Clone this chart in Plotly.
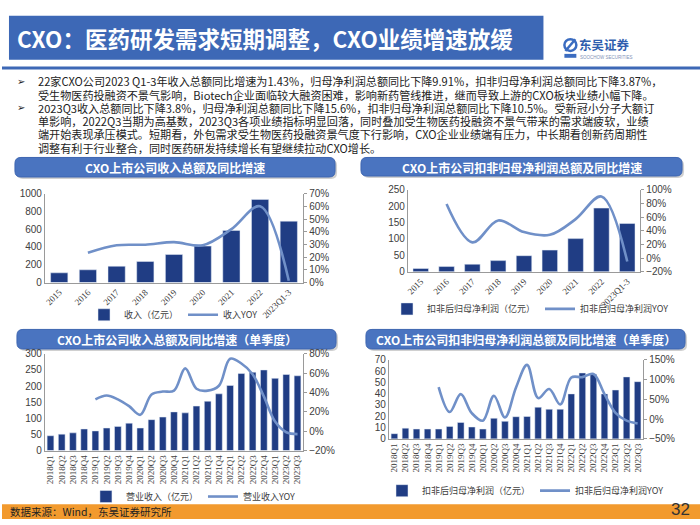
import plotly.graph_objects as go

W, H = 700, 525

# ---------------- data ----------------
years = ["2015", "2016", "2017", "2018", "2019", "2020", "2021", "2022", "2023Q1-3"]
rev_annual = [109, 143, 183, 237, 315, 410, 586, 935, 690]
rev_annual_yoy = [None, 23.4, 29.3, 29.8, 31.8, 29.3, 42.0, 60.0, 1.43]

np_annual = [10, 16, 23, 34, 49, 66, 101, 194, 147]
np_annual_yoy = [None, 79, 23, 55, 38, 34, 57, 90, -5]

quarters = ["2018Q1", "2018Q2", "2018Q3", "2018Q4", "2019Q1", "2019Q2", "2019Q3", "2019Q4",
            "2020Q1", "2020Q2", "2020Q3", "2020Q4", "2021Q1", "2021Q2", "2021Q3", "2021Q4",
            "2022Q1", "2022Q2", "2022Q3", "2022Q4", "2023Q1", "2023Q2", "2023Q3"]
rev_q = [46, 51, 55, 67, 61, 70, 75, 85, 70, 96, 104, 120, 117, 138, 153, 176,
         202, 239, 243, 250, 224, 236, 232]
rev_q_yoy = [None, None, None, None, 33, 37, 33, 26, 17, 38, 41, 42, 65, 44, 42, 47,
             75, 70, 59, 36, 10, -1, -3]

np_q = [4.6, 9.5, 8.7, 8.7, 8.7, 11, 14.5, 10.5, 8.7, 18.2, 15.5, 19.6, 19.8, 28, 26.2, 26.2,
        39.8, 58.3, 57.2, 39.8, 43.2, 54.8, 50.6]
np_q_yoy = [None, None, None, None, 81, 18, 63, 15, -4, 59, 4, 80, 137, 53, 76, 37,
            105, 106, 114, 63, 16, -4, -11]

title_text = "CXO：医药研发需求短期调整，CXO业绩增速放缓"
bullet_lines = [
    "22家CXO公司2023 Q1-3年收入总额同比增速为1.43%，归母净利润总额同比下降9.91%，扣非归母净利润总额同比下降3.87%，",
    "受生物医药投融资不景气影响，Biotech企业面临较大融资困难，影响新药管线推进，继而导致上游的CXO板块业绩小幅下降。",
    "2023Q3收入总额同比下降3.8%，归母净利润总额同比下降15.6%，扣非归母净利润总额同比下降10.5%。受新冠小分子大额订",
    "单影响，2022Q3当期为高基数，2023Q3各项业绩指标明显回落，同时叠加受生物医药投融资不景气带来的需求端疲软，业绩",
    "端开始表现承压模式。短期看，外包需求受生物医药投融资景气度下行影响，CXO企业业绩端有压力，中长期看创新药周期性",
    "调整有利于行业整合，同时医药研发持续增长有望继续拉动CXO增长。",
]
panel_titles = ["CXO上市公司收入总额及同比增速", "CXO上市公司扣非归母净利润总额及同比增速",
                "CXO上市公司收入总额及同比增速（单季度）", "CXO上市公司扣非归母净利润总额及同比增速（单季度）"]

# ---------------- styling ----------------
BAR = "#203D84"
LINE = "#7090C8"
BLUE = "#3D68B6"
AX = "#9A9A9A"
TXT = "#404040"
CJK = "Noto Sans CJK SC"
SERIF = "Liberation Serif"

def px_x(x):
    return x / W

def px_y(y):
    return 1 - y / H

fig = go.Figure()

charts = [
    dict(cats=years, bars=rev_annual, yoy=rev_annual_yoy, bn="收入（亿元）", ln="收入YOY",
         xd=(43, 302), yd=(283, 192), yl=(0, 1000), yld=200, yr=(0, 70), yrd=10, ang=-45,
         leg=(172, 316)),
    dict(cats=years, bars=np_annual, yoy=np_annual_yoy, bn="扣非后归母净利润（亿元）", ln="扣非后归母净利润YOY",
         xd=(407, 640), yd=(272, 188), yl=(0, 250), yld=50, yr=(-20, 100), yrd=20, ang=-45,
         leg=(530, 310)),
    dict(cats=quarters, bars=rev_q, yoy=rev_q_yoy, bn="营业收入（亿元）", ln="营业收入YOY",
         xd=(43, 302), yd=(455, 356), yl=(0, 300), yld=50, yr=(-20, 80), yrd=20, ang=-90,
         leg=(192, 502)),
    dict(cats=quarters, bars=np_q, yoy=np_q_yoy, bn="扣非后归母净利润（亿元）", ln="扣非后归母净利润YOY",
         xd=(388, 643), yd=(443, 362), yl=(0, 70), yld=10, yr=(-50, 150), yrd=50, ang=-90,
         leg=(525, 496)),
]

layout_axes = {}
legends = {}
for i, c in enumerate(charts):
    n = i + 1
    xa = "x" if n == 1 else f"x{n}"
    yl_id = 2 * n - 1
    yr_id = 2 * n
    yla = "y" if yl_id == 1 else f"y{yl_id}"
    yra = f"y{yr_id}"
    legname = "legend" if n == 1 else f"legend{n}"

    fig.add_trace(go.Bar(x=c["cats"], y=c["bars"], name=c["bn"], marker_color=BAR,
                         xaxis=xa, yaxis=yla, legend=legname, showlegend=True))
    fig.add_trace(go.Scatter(x=c["cats"], y=c["yoy"], name=c["ln"], mode="lines",
                             line=dict(color=LINE, width=2.6, shape="spline", smoothing=1.0),
                             xaxis=xa, yaxis=yra, legend=legname, showlegend=True))

    xkey = "xaxis" if n == 1 else f"xaxis{n}"
    ylkey = "yaxis" if yl_id == 1 else f"yaxis{yl_id}"
    yrkey = f"yaxis{yr_id}"
    layout_axes[xkey] = dict(domain=[px_x(c["xd"][0]), px_x(c["xd"][1])], anchor=yla,
                             type="category", showline=True, linecolor=AX, linewidth=1,
                             ticks="", tickangle=c["ang"], showgrid=False,
                             tickfont=dict(family=SERIF, size=9, color=TXT))
    layout_axes[ylkey] = dict(domain=[px_y(c["yd"][0]), px_y(c["yd"][1])], anchor=xa,
                              range=list(c["yl"]), dtick=c["yld"], tick0=0,
                              showline=True, linecolor=AX, linewidth=1, ticks="",
                              showgrid=False, zeroline=False,
                              tickfont=dict(family="Liberation Sans", size=10, color=TXT))
    layout_axes[yrkey] = dict(overlaying=yla, side="right", anchor=xa,
                              range=list(c["yr"]), dtick=c["yrd"], tick0=0,
                              ticksuffix="%", showline=True, linecolor=AX, linewidth=1,
                              ticks="outside", ticklen=3, tickcolor=AX,
                              showgrid=False, zeroline=False,
                              tickfont=dict(family="Liberation Sans", size=10, color=TXT))
    legends[legname] = dict(orientation="h", x=px_x(c["leg"][0]), y=px_y(c["leg"][1]),
                            xanchor="center", yanchor="middle", bgcolor="rgba(0,0,0,0)",
                            font=dict(family=CJK, size=9, color=TXT), itemwidth=30,
                            tracegroupgap=0)

# ---------------- decorations ----------------
shapes = []
annotations = []

# title box
shapes.append(dict(type="rect", xref="paper", yref="paper", x0=px_x(7), x1=px_x(543),
                   y0=px_y(55), y1=px_y(10), fillcolor=BLUE, line=dict(width=0), layer="below"))
annotations.append(dict(text=f"<b>{title_text}</b>", xref="paper", yref="paper",
                        x=px_x(13), y=px_y(33), xanchor="left", yanchor="middle", showarrow=False,
                        font=dict(family=CJK, size=22.5, color="white")))
# separator line
shapes.append(dict(type="rect", xref="paper", yref="paper", x0=0, x1=1, y0=px_y(65), y1=px_y(62),
                   fillcolor=BLUE, line=dict(width=0)))

# logo
shapes.append(dict(type="circle", xref="paper", yref="paper", x0=px_x(564), x1=px_x(576),
                   y0=px_y(46), y1=px_y(34), line=dict(color="#3B6CC0", width=2.5)))
shapes.append(dict(type="line", xref="paper", yref="paper", x0=px_x(565), x1=px_x(575),
                   y0=px_y(46), y1=px_y(34), line=dict(color="#3B6CC0", width=2.5)))
shapes.append(dict(type="rect", xref="paper", yref="paper", x0=px_x(564), x1=px_x(576),
                   y0=px_y(53), y1=px_y(49), fillcolor="#3B6CC0", line=dict(width=0)))
annotations.append(dict(text="<b>东吴证券</b>", xref="paper", yref="paper", x=px_x(577), y=px_y(39),
                        xanchor="left", yanchor="middle", showarrow=False,
                        font=dict(family=CJK, size=12.5, color="#2F5EAE")))
annotations.append(dict(text="SOOCHOW SECURITIES", xref="paper", yref="paper", x=px_x(578), y=px_y(53),
                        xanchor="left", yanchor="middle", showarrow=False,
                        font=dict(family="Liberation Sans", size=4.5, color="#7F93B8")))

# bullets
for k, line in enumerate(bullet_lines):
    yy = 77 + 13.6 * k
    annotations.append(dict(text=line, xref="paper", yref="paper", x=px_x(34), y=px_y(yy),
                            xanchor="left", yanchor="middle", showarrow=False,
                            font=dict(family=CJK, size=11.1, color="#222222")))
for yy in (77, 104):
    annotations.append(dict(text="➢", xref="paper", yref="paper", x=px_x(13), y=px_y(yy),
                            xanchor="left", yanchor="middle", showarrow=False,
                            font=dict(family="DejaVu Sans", size=10, color="#222222")))

# panel title bars (rounded)
def rounded(x0, y0, x1, y1, r=6):
    rx, ry = r / W, r / H
    X0, X1 = px_x(x0), px_x(x1)
    Yt, Yb = px_y(y0), px_y(y1)
    return (f"M {X0+rx},{Yt} L {X1-rx},{Yt} Q {X1},{Yt} {X1},{Yt-ry} L {X1},{Yb+ry} "
            f"Q {X1},{Yb} {X1-rx},{Yb} L {X0+rx},{Yb} Q {X0},{Yb} {X0},{Yb+ry} "
            f"L {X0},{Yt-ry} Q {X0},{Yt} {X0+rx},{Yt} Z")

panel_boxes = [(13, 155, 334, 175), (360, 155, 682, 174), (15, 331, 335, 351), (365, 331, 685, 351)]
for (x0, y0, x1, y1), t in zip(panel_boxes, panel_titles):
    shapes.append(dict(type="path", xref="paper", yref="paper", path=rounded(x0 + 2, y0 + 2, x1 + 2, y1 + 2),
                       fillcolor="rgba(120,120,120,0.35)", line=dict(width=0), layer="below"))
    shapes.append(dict(type="path", xref="paper", yref="paper", path=rounded(x0, y0, x1, y1),
                       fillcolor="#4A74C0", line=dict(color="#3D65B0", width=1), layer="below"))
    annotations.append(dict(text=f"<b>{t}</b>", xref="paper", yref="paper",
                            x=px_x((x0 + x1) / 2), y=px_y((y0 + y1) / 2 + 0.5),
                            xanchor="center", yanchor="middle", showarrow=False,
                            font=dict(family=CJK, size=12, color="white")))

# bottom source bar
shapes.append(dict(type="rect", xref="paper", yref="paper", x0=0, x1=1, y0=0, y1=px_y(510),
                   fillcolor="#F29A2E", line=dict(width=0), layer="below"))
annotations.append(dict(text="数据来源：Wind，东吴证券研究所", xref="paper", yref="paper",
                        x=px_x(6), y=px_y(517), xanchor="left", yanchor="middle", showarrow=False,
                        font=dict(family=CJK, size=10.5, color="#222222")))
annotations.append(dict(text="32", xref="paper", yref="paper",
                        x=px_x(692), y=px_y(515), xanchor="right", yanchor="middle", showarrow=False,
                        font=dict(family="Liberation Sans", size=17, color="#333333")))

fig.update_layout(
    width=W, height=H, margin=dict(l=0, r=0, t=0, b=0),
    paper_bgcolor="white", plot_bgcolor="white",
    bargap=0.4, shapes=shapes, annotations=annotations,
    **layout_axes, **legends,
)

fig.write_html("out.html", config={"displayModeBar": False},
               post_script="document.body.style.margin='0';document.body.style.overflow='hidden';")
